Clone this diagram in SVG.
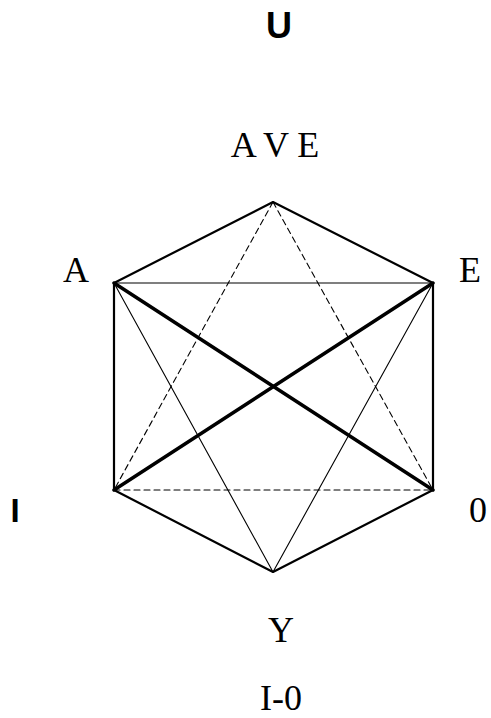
<svg xmlns="http://www.w3.org/2000/svg" width="491" height="718" viewBox="0 0 491 718">
<style>
.serif{font-family:"Liberation Serif","DejaVu Serif",serif;font-size:36px;text-anchor:middle;fill:#000}
.sans{font-family:"Liberation Sans","DejaVu Sans",sans-serif;fill:#000;text-anchor:middle;font-weight:bold}
.edge{stroke:#000;fill:none;stroke-linecap:round;stroke-linejoin:round}
.hex{stroke-width:2.2}
.thick{stroke-width:3.5}
.thin{stroke-width:1.1}
.dash{stroke-width:1.1;stroke-dasharray:6,4}
</style>
<rect width="491" height="718" fill="#fff"/>
<g id="connectors">
<polygon class="edge hex" points="273,202 433,283 433,490 273,572 114,490 114,283"/>
<line class="edge thin" x1="114" y1="283" x2="433" y2="283"/>
<line class="edge thin" x1="114" y1="283" x2="273" y2="572"/>
<line class="edge thin" x1="433" y1="283" x2="273" y2="572"/>
<line class="edge dash" x1="273" y1="202" x2="114" y2="490"/>
<line class="edge dash" x1="273" y1="202" x2="433" y2="490"/>
<line class="edge dash" x1="114" y1="490" x2="433" y2="490"/>
<line class="edge thick" x1="114" y1="283" x2="433" y2="490"/>
<line class="edge thick" x1="433" y1="283" x2="114" y2="490"/>
</g>
<g id="node-U"><text class="sans" x="279" y="38" font-size="36">U</text></g>
<g id="node-AVE"><text class="serif" x="275" y="157">A V E</text></g>
<g id="node-A"><text class="serif" x="76" y="282">A</text></g>
<g id="node-E"><text class="serif" x="470" y="282" text-anchor="start">E</text></g>
<g id="node-I"><text class="sans" x="15" y="522" font-size="33">I</text></g>
<g id="node-0"><text class="serif" x="478" y="522">0</text></g>
<g id="node-Y"><text class="serif" x="281" y="642">Y</text></g>
<g id="node-I0"><text class="serif" x="281" y="710">I-0</text></g>
</svg>
